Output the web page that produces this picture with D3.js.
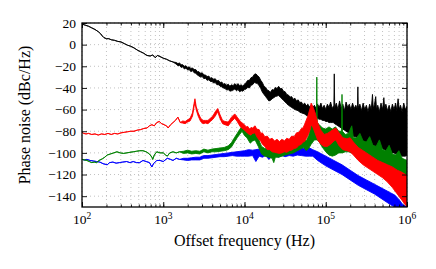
<!DOCTYPE html>
<html>
<head>
<meta charset="utf-8">
<script src="https://cdn.jsdelivr.net/npm/d3@7"></script>
<style>
body { margin: 0; background: #fff; }
svg { display: block; }
text { font-family: "Liberation Serif", "Times New Roman", serif; fill: #000; }
</style>
</head>
<body>
<svg id="chart"></svg>
<script>
// each row: [log10 of offset frequency, upper dB, lower dB] (lower omitted when the trace is thin)
const blackTrace = [
    [2.00,19],[2.04,18],[2.08,17],[2.12,15.5],[2.16,14],[2.20,12],[2.23,10],[2.25,8],[2.27,6.5],[2.30,5.5],
    [2.33,5.5],[2.36,4.5],[2.40,4],[2.44,3],[2.48,2.5],[2.52,1],[2.56,-0.5],[2.60,-1.5],[2.64,-3],[2.68,-5],
    [2.72,-6.5],[2.76,-8],[2.80,-10],[2.84,-10.5],[2.87,-9.5],[2.90,-12],[2.93,-10],[2.96,-11],[3.00,-12.5],
    [3.04,-13.5],[3.08,-15],[3.12,-16],[3.16,-16.5,-18],[3.18,-17.5,-19.5],[3.20,-17,-19],[3.22,-18.5,-21],
    [3.24,-18.5,-20.5],[3.26,-20,-22.5],[3.28,-19.5,-21.5],[3.30,-21,-23.5],[3.32,-20.5,-23],[3.34,-22,-25],
    [3.36,-21.5,-24],[3.38,-23,-26],[3.40,-23,-26.5],[3.42,-25,-28],[3.44,-25,-29],[3.46,-26.5,-30],
    [3.48,-26,-29.5],[3.50,-28,-31.5],[3.52,-28,-31],[3.54,-29.5,-33],[3.56,-29,-32.5],[3.58,-31,-34],
    [3.60,-30.5,-34],[3.62,-32,-35.5],[3.64,-31.5,-35],[3.66,-33.5,-37],[3.68,-33,-37],[3.70,-35,-38.5],
    [3.72,-34.5,-39],[3.74,-36.5,-40],[3.76,-36,-40.5],[3.78,-37.5,-42],[3.80,-36.5,-41.5],[3.82,-38.5,-43],
    [3.84,-37,-42.5],[3.86,-38,-42],[3.88,-36,-41],[3.90,-37.5,-42.5],[3.92,-36,-41.5],[3.94,-38,-43.5],
    [3.96,-37,-42.5],[3.98,-38.5,-43],[4.00,-36.5,-41.5],[4.02,-35,-41],[4.04,-33,-39.5],[4.06,-33,-40],
    [4.08,-30.5,-37.5],[4.10,-30,-37],[4.12,-27.5,-35],[4.14,-27,-35.5],[4.16,-28.5,-36],[4.18,-30,-38],
    [4.20,-33,-40.5],[4.22,-35,-44],[4.24,-38.5,-46],[4.26,-39.5,-48],[4.28,-42,-50],[4.30,-42.5,-52],
    [4.32,-44,-51.5],[4.34,-41.5,-50],[4.36,-42,-49],[4.38,-39.5,-48],[4.40,-40.5,-47.5],[4.42,-38.5,-47],
    [4.44,-40.5,-48.5],[4.46,-40.5,-50],[4.48,-43,-51.5],[4.50,-43.5,-53],[4.52,-46,-54.5],[4.54,-46.5,-56],
    [4.56,-48.5,-57],[4.58,-48,-58],[4.60,-50.5,-59],[4.62,-49.5,-60],[4.64,-52,-60.5],[4.66,-51,-61],
    [4.68,-53.5,-62.5],[4.70,-53,-63],[4.72,-55.5,-63.5],[4.74,-54,-64],[4.76,-56.5,-65.5],[4.78,-55,-66],
    [4.80,-57.5,-66.5],[4.82,-56,-67],[4.84,-58,-67],[4.86,-56,-67],[4.88,-59,-68],[4.90,-55,-68],
    [4.92,-58,-69],[4.94,-54,-69],[4.96,-59,-70],[4.98,-56,-70],[5.00,-60,-71],[5.02,-55,-71],[5.04,-58,-72],
    [5.06,-53,-72],[5.08,-59,-72],[5.10,-56,-72],[5.105,-27,-73],[5.11,-58,-73],[5.13,-54,-74],[5.15,-60,-75],
    [5.17,-52,-76],[5.19,-59,-77],[5.21,-55,-78],[5.23,-61,-79],[5.25,-53,-80],[5.27,-58,-81],[5.29,-55,-82],
    [5.31,-60,-83],[5.33,-54,-84],[5.35,-59,-85],[5.37,-56,-85],[5.39,-60,-86],[5.395,-39,-86],[5.40,-58,-87],
    [5.42,-55,-88],[5.44,-61,-88],[5.46,-54,-89],[5.48,-60,-90],[5.50,-56,-90],[5.52,-62,-91],[5.54,-55,-92],
    [5.56,-60,-92],[5.575,-46,-93],[5.585,-59,-93],[5.60,-55,-94],[5.615,-48,-94],[5.625,-60,-94],
    [5.64,-56,-95],[5.66,-62,-95],[5.68,-54,-96],[5.70,-60,-96],[5.715,-49,-97],[5.725,-59,-97],[5.74,-55,-98],
    [5.76,-61,-98],[5.78,-56,-99],[5.80,-62,-99],[5.82,-55,-100],[5.84,-60,-100],[5.86,-54,-101],
    [5.875,-61,-101],[5.89,-50,-102],[5.905,-60,-102],[5.92,-56,-102],[5.94,-62,-103],[5.96,-54,-103],
    [5.98,-60,-103],[6.00,-57,-102]
];

const blueTrace = [
    [2.00,-106],[2.03,-106.5],[2.06,-106],[2.10,-107],[2.14,-107.5],[2.18,-108],[2.22,-108.5],[2.26,-110],
    [2.31,-111],[2.34,-109],[2.38,-108.5],[2.42,-109.5],[2.46,-109],[2.50,-108.5],[2.55,-108],[2.59,-109],
    [2.63,-108],[2.67,-109],[2.71,-109],[2.75,-107],[2.79,-108],[2.83,-109],[2.86,-113],[2.88,-110],[2.92,-107],
    [2.96,-107],[3.00,-108],[3.05,-105],[3.09,-106],[3.12,-107],[3.16,-105],[3.20,-106],[3.25,-105,-106.5],
    [3.30,-105,-107],[3.35,-104.5,-106.5],[3.40,-104,-106.5],[3.45,-104,-106.5],[3.50,-102.5,-105],
    [3.55,-102.5,-105],[3.60,-102,-104.5],[3.65,-101.5,-104],[3.70,-101,-103.5],[3.75,-100.5,-103.5],
    [3.80,-100,-103],[3.85,-99.5,-102.5],[3.90,-99,-103],[3.95,-98.5,-103],[4.00,-98,-103],[4.05,-97,-103],
    [4.10,-97.5,-102.5],[4.14,-97,-108],[4.18,-96.5,-103],[4.22,-97.5,-104],[4.26,-96.5,-102.5],[4.30,-97,-106],
    [4.34,-96.5,-103],[4.38,-97.5,-102.5],[4.42,-96,-104],[4.46,-96.5,-102.5],[4.50,-95.5,-103.5],
    [4.55,-96.5,-102.5],[4.60,-95.5,-103],[4.65,-96.5,-102],[4.70,-95.5,-102.5],[4.75,-96,-103],
    [4.80,-95.5,-103],[4.84,-97,-103],[4.90,-99,-107],[5.00,-103,-112],[5.10,-107,-116],[5.20,-111,-120],
    [5.30,-116,-125],[5.40,-121,-130],[5.50,-125,-134],[5.60,-129,-138],[5.70,-133,-143],[5.80,-137,-148],
    [5.85,-139,-150],[5.90,-143,-150],[5.95,-148,-150],[6.00,-150,-150]
];

const greenTrace = [
    [2.00,-106],[2.03,-106.5],[2.06,-107],[2.09,-108],[2.12,-109],[2.15,-108.5],[2.18,-109],[2.21,-107],
    [2.25,-105.5],[2.28,-104],[2.31,-102],[2.35,-101],[2.39,-100],[2.43,-99],[2.47,-100],[2.51,-100.5],
    [2.55,-100],[2.59,-99.5],[2.63,-99],[2.67,-98.5],[2.71,-98],[2.75,-98],[2.79,-99],[2.83,-101],[2.86,-104],
    [2.87,-106],[2.89,-102],[2.92,-99],[2.96,-100],[3.00,-100],[3.03,-102],[3.05,-103],[3.08,-100],[3.12,-99],
    [3.16,-100],[3.20,-99],[3.25,-98.5,-100.5],[3.30,-97.5,-100],[3.35,-98.5,-101],[3.40,-98,-100.5],
    [3.45,-98.5,-101],[3.50,-96.5,-99],[3.55,-97.5,-100],[3.60,-96.5,-99],[3.65,-96,-99],[3.70,-95.5,-98.5],
    [3.75,-95,-98],[3.80,-93.5,-97],[3.84,-90.5,-94.5],[3.88,-85.5,-89.5],[3.91,-82,-86],[3.94,-78.5,-83],
    [3.97,-75.5,-80],[4.00,-78,-84],[4.03,-79,-86],[4.07,-84,-91],[4.10,-82,-89],[4.13,-81,-88],[4.17,-87,-94],
    [4.21,-94,-101],[4.25,-96,-103],[4.30,-97,-104],[4.34,-97,-105],[4.36,-99,-109],[4.38,-97,-104],
    [4.42,-97,-104],[4.46,-96,-103],[4.50,-95,-102],[4.55,-94,-101],[4.60,-93,-100],[4.65,-91,-98],
    [4.70,-89,-96],[4.73,-87,-95],[4.76,-89,-98],[4.79,-84,-96],[4.82,-75,-92],[4.86,-68,-88],[4.885,-72,-88],
    [4.89,-30,-88],[4.895,-72,-88],[4.92,-74,-90],[4.96,-77,-95],[5.00,-78,-99],[5.04,-76,-102],[5.08,-78,-103],
    [5.12,-76,-102],[5.16,-80,-100],[5.195,-80,-100],[5.20,-46,-100],[5.205,-80,-100],[5.24,-83,-99],
    [5.28,-82,-99],[5.32,-75,-100],[5.34,-86,-100],[5.38,-86,-101],[5.42,-82,-103],[5.46,-89,-104],
    [5.50,-90,-106],[5.54,-85,-108],[5.58,-93,-109],[5.62,-94,-111],[5.66,-88,-112],[5.70,-97,-114],
    [5.74,-98,-115],[5.78,-93,-117],[5.82,-101,-118],[5.86,-102,-119],[5.90,-98,-120],[5.94,-105,-121],
    [6.00,-107,-122]
];

const redTrace = [
    [2.00,-81],[2.02,-82],[2.05,-82.5],[2.08,-82],[2.12,-83],[2.16,-82.5],[2.20,-83.5],[2.24,-82.5],[2.28,-83],
    [2.32,-82],[2.36,-83],[2.40,-82],[2.44,-82.5],[2.48,-81.5],[2.52,-81],[2.56,-80.5],[2.60,-80],[2.64,-80],
    [2.68,-79],[2.72,-78.5],[2.76,-77.5],[2.80,-77],[2.83,-75],[2.86,-74],[2.89,-75],[2.92,-72],[2.95,-71],
    [2.98,-73],[3.01,-74],[3.04,-75],[3.06,-77],[3.09,-74],[3.12,-72],[3.15,-70],[3.18,-67],[3.21,-72],
    [3.24,-70.5,-72.5],[3.27,-71,-73],[3.30,-69.5,-71.5],[3.33,-68,-70.5],[3.36,-63,-66],[3.38,-54,-57],
    [3.39,-50,-53],[3.405,-57,-60],[3.43,-63,-66],[3.46,-68,-71],[3.49,-70,-73],[3.52,-70,-72.5],[3.55,-70,-73],
    [3.58,-68,-71],[3.61,-66,-69],[3.64,-62,-66],[3.67,-59,-62],[3.70,-65,-68.5],[3.73,-70,-73],[3.76,-71,-74],
    [3.80,-71.5,-75],[3.84,-67,-71],[3.88,-64,-68],[3.91,-67,-71],[3.95,-71,-76],[4.00,-74,-79],
    [4.02,-76,-80.5],[4.04,-75.5,-82],[4.06,-78,-83],[4.08,-76.5,-83.5],[4.10,-77,-82],[4.13,-75,-81.5],
    [4.15,-78,-85],[4.18,-78.5,-88],[4.20,-82,-89],[4.22,-81.5,-92],[4.25,-85,-94],[4.28,-84.5,-97],
    [4.31,-87.5,-97],[4.34,-86.5,-99],[4.37,-89,-99.5],[4.40,-87.5,-100],[4.43,-89.5,-100.5],[4.46,-87.5,-100],
    [4.49,-89,-99],[4.52,-86.5,-99.5],[4.55,-87.5,-98],[4.58,-84.5,-97.5],[4.61,-85,-96],[4.64,-81.5,-95.5],
    [4.67,-81,-93],[4.70,-77.5,-92],[4.72,-77,-90],[4.74,-73.5,-89.5],[4.78,-66,-84],[4.81,-58,-78],
    [4.82,-54,-74],[4.84,-57,-76],[4.87,-63,-82],[4.90,-72,-88],[4.94,-79,-92],[4.98,-83,-94],[5.02,-82,-94],
    [5.06,-80,-92],[5.10,-78,-89],[5.125,-77,-88],[5.16,-81,-93],[5.21,-86,-97],[5.26,-87,-98],[5.30,-86,-99],
    [5.34,-90,-102],[5.40,-95,-107],[5.46,-98,-111],[5.52,-101,-114],[5.58,-104,-117],[5.64,-107,-120],
    [5.70,-109,-123],[5.76,-111,-127],[5.82,-113,-132],[5.88,-116,-138],[5.94,-118,-144],[6.00,-121,-150]
];

const majorFreqs = [1e2, 1e3, 1e4, 1e5, 1e6];
const majorExps = ["2", "3", "4", "5", "6"];
const yTicks = [-140, -120, -100, -80, -60, -40, -20, 0, 20];

const margin = {top: 23, right: 29, bottom: 62, left: 82};
const width = 436 - margin.left - margin.right;
const height = 269 - margin.top - margin.bottom;

const svg = d3.select("#chart")
    .attr("width", 436)
    .attr("height", 269);

const g = svg.append("g")
    .attr("transform", `translate(${margin.left},${margin.top})`);

const x = d3.scaleLog()
    .domain([1e2, 1e6])
    .range([0, width]);

const y = d3.scaleLinear()
    .domain([-150, 20])
    .range([height, 0]);

// dotted grid at every decade multiple and every 20 dB
const allFreqs = x.ticks();
g.append("g").selectAll("line")
    .data(allFreqs)
    .enter().append("line")
    .attr("x1", d => x(d)).attr("x2", d => x(d))
    .attr("y1", 0).attr("y2", height)
    .attr("stroke", "#999").attr("stroke-width", 0.6)
    .attr("stroke-dasharray", "1,3");

g.append("g").selectAll("line")
    .data(yTicks)
    .enter().append("line")
    .attr("x1", 0).attr("x2", width)
    .attr("y1", d => y(d)).attr("y2", d => y(d))
    .attr("stroke", "#999").attr("stroke-width", 0.6)
    .attr("stroke-dasharray", "1,3");

g.append("clipPath").attr("id", "plot-clip")
  .append("rect")
    .attr("width", width)
    .attr("height", height);

const band = d3.area()
    .x(d => x(Math.pow(10, d[0])))
    .y0(d => y(d[1]))
    .y1(d => y(d.length > 2 ? d[2] : d[1]));

const traces = [
    {data: blackTrace, color: "#000000"},
    {data: blueTrace, color: "#0000ff"},
    {data: greenTrace, color: "#008000"},
    {data: redTrace, color: "#ff0000"}
];

const plot = g.append("g").attr("clip-path", "url(#plot-clip)");

plot.selectAll(".trace")
    .data(traces)
    .enter().append("path")
    .attr("class", "trace")
    .attr("d", d => band(d.data))
    .attr("fill", d => d.color)
    .attr("stroke", d => d.color)
    .attr("stroke-width", 0.9)
    .attr("stroke-linejoin", "round");

// inward ticks on all four sides
g.append("g")
    .attr("transform", `translate(0,${height})`)
    .call(d3.axisBottom(x).tickValues(allFreqs).tickSize(-2.5).tickFormat(""));
g.append("g")
    .call(d3.axisTop(x).tickValues(allFreqs).tickSize(-2.5).tickFormat(""));
g.append("g")
    .attr("transform", `translate(0,${height})`)
    .call(d3.axisBottom(x).tickValues(majorFreqs).tickSize(-5).tickFormat(""));
g.append("g")
    .call(d3.axisTop(x).tickValues(majorFreqs).tickSize(-5).tickFormat(""));

const yAxis = g.append("g")
    .call(d3.axisLeft(y).tickValues(yTicks).tickSize(-5).tickPadding(6));
g.append("g")
    .attr("transform", `translate(${width},0)`)
    .call(d3.axisRight(y).tickValues(yTicks).tickSize(-5).tickFormat(""));

g.selectAll(".domain").remove();
g.selectAll(".tick line").attr("stroke", "#000").attr("stroke-width", 0.9);

yAxis.selectAll("text")
    .attr("font-family", "Liberation Serif")
    .attr("font-size", "13.5px")
    .attr("fill", "#000");

// x tick labels as powers of ten
const xLabels = g.append("g").selectAll("text")
    .data(majorFreqs)
    .enter().append("text")
    .attr("x", d => x(d))
    .attr("y", height + 17)
    .attr("text-anchor", "middle")
    .attr("font-size", "13.5px");
xLabels.append("tspan").text("10");
xLabels.append("tspan")
    .attr("dy", -5.5)
    .attr("font-size", "9.5px")
    .text((d, i) => majorExps[i]);

g.append("rect")
    .attr("width", width)
    .attr("height", height)
    .attr("fill", "none")
    .attr("stroke", "#000")
    .attr("stroke-width", 1.3);

svg.append("text")
    .attr("x", margin.left + width / 2)
    .attr("y", 246)
    .attr("text-anchor", "middle")
    .attr("font-size", "16px")
    .text("Offset frequency (Hz)");

svg.append("text")
    .attr("transform", `translate(30,${margin.top + height / 2}) rotate(-90)`)
    .attr("text-anchor", "middle")
    .attr("font-size", "16px")
    .text("Phase noise (dBc/Hz)");
</script>
</body>
</html>
